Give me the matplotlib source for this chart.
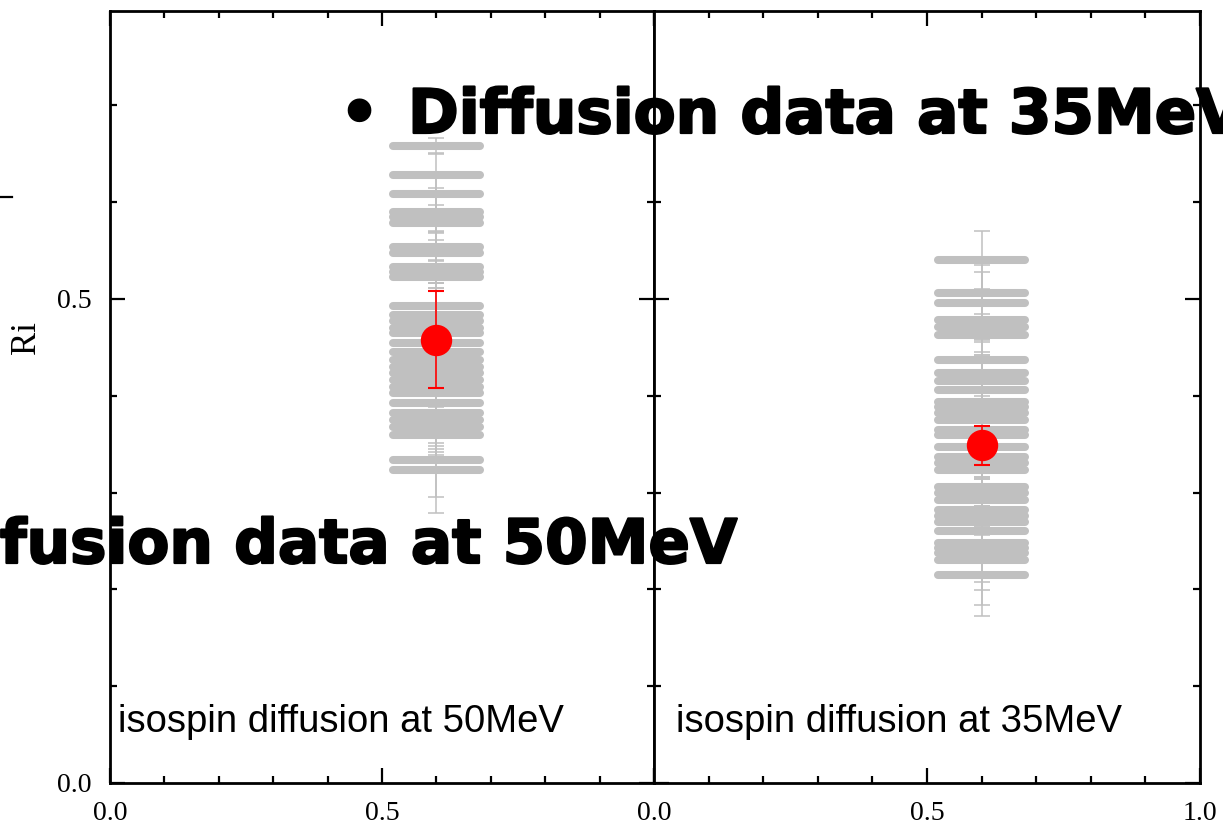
import numpy as np
import matplotlib
matplotlib.use("Agg")
import matplotlib.pyplot as plt
import matplotlib.patheffects as pe
from matplotlib.lines import Line2D
from matplotlib.ticker import MultipleLocator, FixedLocator

# -------------------------------
# DATA
# -------------------------------
x_pos = 0.6
x_spread = 0.08

# 50 MeV panel: gray model points
y50 = [0.658, 0.628, 0.608, 0.590, 0.585, 0.579, 0.554, 0.547, 0.533, 0.528,
       0.523, 0.493, 0.483, 0.477, 0.470, 0.465, 0.455, 0.445, 0.437, 0.430,
       0.424, 0.416, 0.409, 0.403, 0.393, 0.382, 0.375, 0.368, 0.360, 0.334,
       0.323]
yerr50 = [0.008, 0.023, 0.022, 0.020, 0.030, 0.018, 0.015, 0.021, 0.017, 0.012,
          0.012, 0.018, 0.033, 0.015, 0.020, 0.012, 0.016, 0.030, 0.014, 0.020,
          0.016, 0.012, 0.025, 0.018, 0.042, 0.037, 0.036, 0.020, 0.018, 0.039,
          0.044]

# 35 MeV panel: gray model points
y35 = [0.540, 0.506, 0.4955, 0.478, 0.471, 0.463, 0.437, 0.424, 0.415, 0.406,
       0.394, 0.388, 0.382, 0.375, 0.365, 0.360, 0.347, 0.337, 0.331, 0.323,
       0.306, 0.300, 0.292, 0.282, 0.276, 0.270, 0.260, 0.248, 0.243, 0.238,
       0.230, 0.215]
yerr35 = [0.030, 0.022, 0.040, 0.020, 0.035, 0.018, 0.022, 0.018, 0.027, 0.015,
          0.020, 0.012, 0.025, 0.015, 0.020, 0.013, 0.022, 0.021, 0.015, 0.018,
          0.020, 0.014, 0.022, 0.017, 0.020, 0.023, 0.020, 0.016, 0.035, 0.039,
          0.046, 0.043]

# experimental points (red)
exp_y = [0.458, 0.349]
exp_err = [0.050, 0.020]

panel_text = ["isospin diffusion at 50MeV", "isospin diffusion at 35MeV"]

GRAY = "#c0c0c0"
RED = "#ff0000"
SERIF = "Liberation Serif"
YTOP = 0.7975

W, H = 1223, 827
fig = plt.figure(figsize=(W / 100, H / 100), dpi=100)

ax_l = fig.add_axes([110 / W, 44 / H, 544 / W, 772 / H])
ax_r = fig.add_axes([654 / W, 44 / H, 546 / W, 772 / H])


def draw_panel(ax, ys, errs, ey, eerr, label, text_x):
    n = len(ys)
    xs = np.full(n, x_pos)
    # thick horizontal bands
    _, _, bars = ax.errorbar(xs, ys, xerr=x_spread, fmt="none", ecolor=GRAY,
                             elinewidth=5.8, capsize=0, zorder=2)
    for b in bars:
        b.set_capstyle("round")
    # thin vertical error bars with caps
    ax.errorbar(xs, ys, yerr=errs, fmt="none", ecolor=GRAY, elinewidth=1.1,
                capsize=5.8, capthick=1.1, zorder=2)
    # data point
    ax.errorbar([x_pos], [ey], yerr=[eerr], fmt="o", color=RED, ms=21.6,
                ecolor=RED, elinewidth=1.2, capsize=5.8, capthick=1.5,
                zorder=4)
    ax.text(text_x, 0.066, label, transform=ax.transAxes, ha="left",
            va="baseline", fontsize=27.5, family="Liberation Sans",
            color="black")

    ax.set_xlim(0, 1.0)
    ax.set_ylim(0, YTOP)
    ax.xaxis.set_major_locator(FixedLocator([0.0, 0.5, 1.0]))
    ax.xaxis.set_minor_locator(MultipleLocator(0.1))
    ax.yaxis.set_major_locator(FixedLocator([0.0, 0.5]))
    ax.yaxis.set_minor_locator(MultipleLocator(0.1))
    ax.tick_params(which="both", direction="in", top=True, right=True,
                   width=1.6, color="black")
    ax.tick_params(which="major", length=11, labelsize=20, pad=13)
    ax.tick_params(which="minor", length=5)
    for s in ax.spines.values():
        s.set_linewidth(2.0)


draw_panel(ax_l, y50, yerr50, exp_y[0], exp_err[0], panel_text[0], 0.015)
draw_panel(ax_r, y35, yerr35, exp_y[1], exp_err[1], panel_text[1], 0.040)

ax_l.set_xticklabels(["0.0", "0.5", ""])
ax_l.set_yticklabels(["0.0", "0.5"])
ax_r.tick_params(labelleft=False)

for lab in ax_l.get_xticklabels() + ax_l.get_yticklabels() + ax_r.get_xticklabels():
    lab.set_family(SERIF)

fig.text(26 / W, 1 - 338 / H, "Ri", rotation=90, ha="center", va="center",
         fontsize=25, family=SERIF)

# short stroke at left margin
fig.add_artist(Line2D([0, 12 / W], [1 - 197 / H, 1 - 197 / H], color="black",
                      lw=1.6, transform=fig.transFigure))

# slide bullet text on top of the plot
big = dict(fontsize=44, fontweight="bold", family="DejaVu Sans",
           color="black", zorder=10,
           path_effects=[pe.withStroke(linewidth=1.6, foreground="black")])
fig.text(340 / W, 1 - 133 / H, "\u2022", ha="left", va="baseline", **big)
fig.text(408 / W, 1 - 133 / H, "Diffusion data at 35MeV", ha="left",
         va="baseline", **big)
fig.text(0, 1 - 563 / H, "fusion data at 50MeV", ha="left",
         va="baseline", **big)

fig.savefig("out.png", dpi=100)
